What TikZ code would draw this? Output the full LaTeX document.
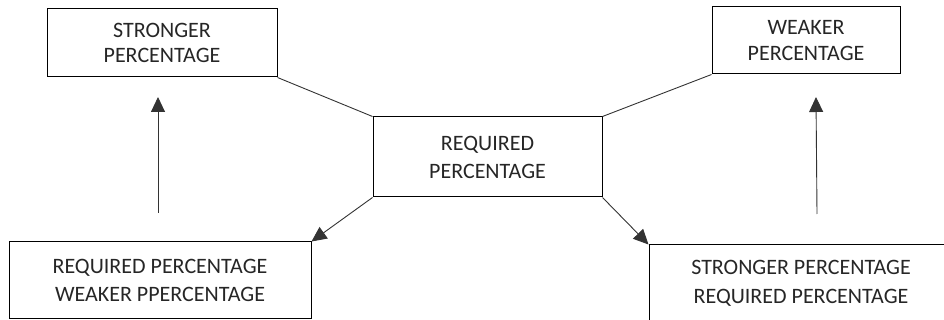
\documentclass[tikz,border=0pt]{standalone}
\usepackage{fontspec}
\setmainfont{Carlito}
\usetikzlibrary{arrows.meta}
\begin{document}
\begin{tikzpicture}[x=1pt,y=-1pt,
  box/.style={draw=black,line width=1pt,align=center,inner sep=0pt,
    font=\fontsize{22}{27}\selectfont,text=black!85},
  conn/.style={draw=black!80,line width=0.9pt},
  arr/.style={conn,-{Triangle[length=15pt,width=14pt]}}]
\useasboundingbox (0,0) rectangle (944,320);
\node[box,font=\fontsize{22}{25}\selectfont,minimum width=230pt,minimum height=68pt] (tl) at (162,43) {STRONGER\\PERCENTAGE};
\node[box,font=\fontsize{22}{26}\selectfont,minimum width=188pt,minimum height=67pt] (tr) at (806,40.5) {WEAKER\\PERCENTAGE};
\node[box,font=\fontsize{22}{28}\selectfont,minimum width=229pt,minimum height=80pt] (c) at (487.5,157) {REQUIRED\\PERCENTAGE};
\node[box,font=\fontsize{22}{28}\selectfont,minimum width=302pt,minimum height=76pt] (bl) at (160,280) {REQUIRED PERCENTAGE\\WEAKER PPERCENTAGE};
\node[box,font=\fontsize{22}{29}\selectfont,minimum width=304pt,minimum height=77pt] (br) at (801,283.5) {STRONGER PERCENTAGE\\REQUIRED PERCENTAGE};
\coordinate (lt) at (158,213);
\coordinate (lh) at (158,97);
\coordinate (rt) at (817,214);
\coordinate (rh) at (816,97);
\draw[conn] (tl.south east) -- (c.north west);
\draw[conn] (tr.south west) -- (c.north east);
\draw[arr] (c.south west) -- (bl.north east);
\draw[arr] (c.south east) -- (br.north west);
\draw[arr] (lt) -- (lh);
\draw[arr] (rt) -- (rh);
\end{tikzpicture}
\end{document}
